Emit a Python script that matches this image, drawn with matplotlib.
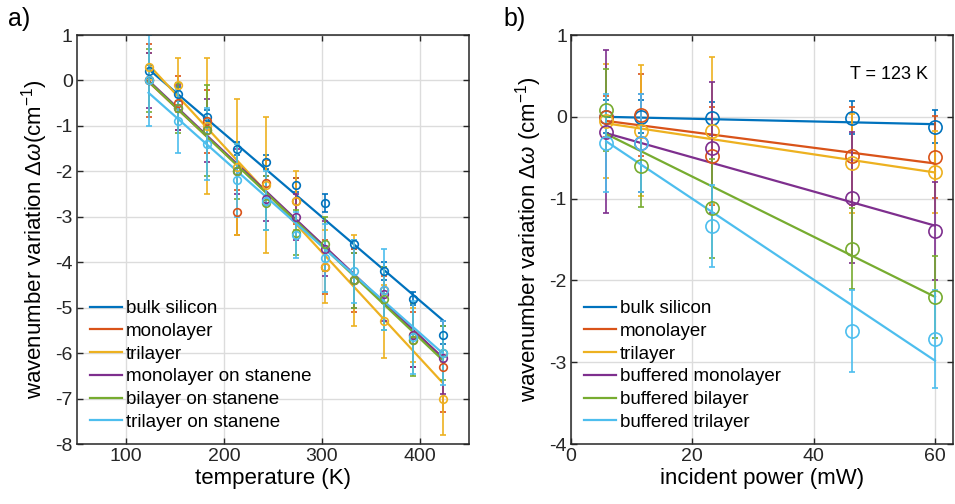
import matplotlib
matplotlib.use("Agg")
import matplotlib.pyplot as plt

plt.rcParams['font.family'] = ['Liberation Sans', 'DejaVu Sans']
plt.rcParams['mathtext.fontset'] = 'custom'
plt.rcParams['mathtext.rm'] = 'Liberation Sans'
plt.rcParams['mathtext.it'] = 'Liberation Sans:italic'
plt.rcParams['axes.unicode_minus'] = False

COLORS = ["#0072BD", "#D95319", "#EDB120", "#7E2F8E", "#77AC30", "#4DBEEE"]

# ---- panel a: temperature series ----
temp = [123, 153, 183, 213, 243, 273, 303, 333, 363, 393, 423]
labels_a = ["bulk silicon", "monolayer", "trilayer",
            "monolayer on stanene", "bilayer on stanene", "trilayer on stanene"]
bulk_a = [0.2, -0.3, -0.8, -1.5, -1.8, -2.3, -2.7, -3.6, -4.2, -4.8, -5.6]
bulk_a_err = [0.15, 0.15, 0.15, 0.15, 0.15, 0.15, 0.2, 0.1, 0.2, 0.15, 0.2]
mono_a = [0.0, -0.5, -0.9, -2.9, -2.25, -2.65, -4.1, -4.4, -4.6, -5.7, -6.3]
mono_a_err = [0.8, 0.6, 0.7, 0.5, 0.5, 0.5, 0.6, 0.7, 0.3, 0.6, 1.0]
tri_a = [0.3, -0.1, -1.0, -1.9, -2.3, -2.65, -4.1, -4.4, -5.3, -5.6, -7.0]
tri_a_err = [0.3, 0.6, 1.5, 1.5, 1.5, 0.65, 0.8, 1.0, 0.8, 0.6, 0.8]
monost_a = [0.0, -0.6, -1.1, -2.0, -2.6, -3.0, -3.7, -4.4, -4.7, -5.6, -6.1]
monost_a_err = [0.6, 0.5, 0.7, 0.5, 0.5, 0.5, 0.6, 0.6, 0.6, 0.7, 0.8]
bist_a = [0.0, -0.6, -1.1, -2.0, -2.7, -3.35, -3.6, -4.4, -4.8, -5.7, -6.0]
bist_a_err = [0.7, 0.55, 1.0, 0.6, 0.6, 0.5, 0.6, 0.6, 0.7, 0.8, 0.6]
trist_a = [0.0, -0.9, -1.4, -2.2, -2.65, -3.4, -3.9, -4.2, -4.6, -5.65, -6.0]
trist_a_err = [1.0, 0.7, 0.8, 0.8, 0.65, 0.5, 0.75, 0.7, 0.9, 0.8, 0.7]
# linear fits, value at first and last temperature
fit_a_start = [0.25, -0.03, 0.35, 0.0, -0.02, -0.27]
fit_a_end = [-5.27, -6.1, -6.65, -6.1, -6.15, -6.0]

# ---- panel b: power series ----
power = [5.8, 11.6, 23.2, 46.4, 60]
labels_b = ["bulk silicon", "monolayer", "trilayer",
            "buffered monolayer", "buffered bilayer", "buffered trilayer"]
bulk_b = [0.0, 0.0, -0.02, -0.01, -0.12]
bulk_b_err = [0.2, 0.2, 0.2, 0.2, 0.2]
mono_b = [0.0, 0.02, -0.48, -0.48, -0.49]
mono_b_err = [0.25, 0.5, 0.6, 0.6, 0.5]
tri_b = [-0.05, -0.17, -0.17, -0.57, -0.67]
tri_b_err = [0.7, 0.8, 0.9, 0.6, 0.5]
bmono_b = [-0.18, -0.32, -0.38, -0.99, -1.4]
bmono_b_err = [1.0, 0.6, 0.8, 0.8, 0.6]
bbi_b = [0.08, -0.6, -1.12, -1.61, -2.2]
bbi_b_err = [0.5, 0.5, 0.6, 0.5, 0.5]
btri_b = [-0.32, -0.32, -1.33, -2.62, -2.72]
btri_b_err = [0.6, 0.6, 0.5, 0.5, 0.6]
fit_b_start = [0.0, -0.05, -0.08, -0.2, -0.21, -0.3]
fit_b_end = [-0.09, -0.57, -0.68, -1.33, -2.2, -2.98]


def style(ax):
    ax.grid(True, color="#dcdcdc", linewidth=1.0)
    ax.set_axisbelow(True)
    ax.tick_params(direction="in", top=True, right=True, labelsize=14,
                   length=4, width=1.0, colors="#262626", pad=3)
    for s in ax.spines.values():
        s.set_linewidth(1.1)
        s.set_color("#262626")


def panel(ax, x, series, errs, labels, fs, fe, ms):
    for i, (y, e) in enumerate(zip(series, errs)):
        c = COLORS[i]
        ax.errorbar(x, y, yerr=e, fmt="o", mfc="none", mec=c, ms=ms, mew=1.2,
                    ecolor=c, elinewidth=1.2, capsize=2.5, capthick=1.2)
        ax.plot([x[0], x[-1]], [fs[i], fe[i]], color=c, lw=1.6, label=labels[i])
    ax.legend(loc="lower left", frameon=False, fontsize=13.5, handlelength=1.7,
              handletextpad=0.2, labelspacing=0.3, borderaxespad=0.3)


fig = plt.figure(figsize=(9.55, 5.04), dpi=100)
ax1 = fig.add_axes([0.0806, 0.119, 0.4105, 0.8115])
ax2 = fig.add_axes([0.598, 0.119, 0.40, 0.8115])

panel(ax1, temp, [bulk_a, mono_a, tri_a, monost_a, bist_a, trist_a],
      [bulk_a_err, mono_a_err, tri_a_err, monost_a_err, bist_a_err, trist_a_err],
      labels_a, fit_a_start, fit_a_end, 5.5)
ax1.set_xlim(50, 450)
ax1.set_ylim(-8, 1)
ax1.set_xticks([100, 200, 300, 400])
ax1.set_yticks(range(-8, 2))
ax1.set_xlabel("temperature (K)", fontsize=16, labelpad=2)
ax1.set_ylabel(r"wavenumber variation $\Delta\mathit{\omega}$(cm$^{-1}$)", fontsize=16, labelpad=4)
style(ax1)

panel(ax2, power, [bulk_b, mono_b, tri_b, bmono_b, bbi_b, btri_b],
      [bulk_b_err, mono_b_err, tri_b_err, bmono_b_err, bbi_b_err, btri_b_err],
      labels_b, fit_b_start, fit_b_end, 9.5)
ax2.set_xlim(0, 63)
ax2.set_ylim(-4, 1)
ax2.set_xticks([0, 20, 40, 60])
ax2.set_yticks(range(-4, 2))
ax2.set_xlabel("incident power (mW)", fontsize=16, labelpad=2)
ax2.set_ylabel(r"wavenumber variation $\Delta\mathit{\omega}$ (cm$^{-1}$)", fontsize=16, labelpad=4)
ax2.text(52.5, 0.52, "T = 123 K", ha="center", va="center", fontsize=13)
style(ax2)

fig.text(0.008, 0.962, "a)", fontsize=18, va="center")
fig.text(0.527, 0.962, "b)", fontsize=18, va="center")

fig.savefig("out.png", dpi=100)
